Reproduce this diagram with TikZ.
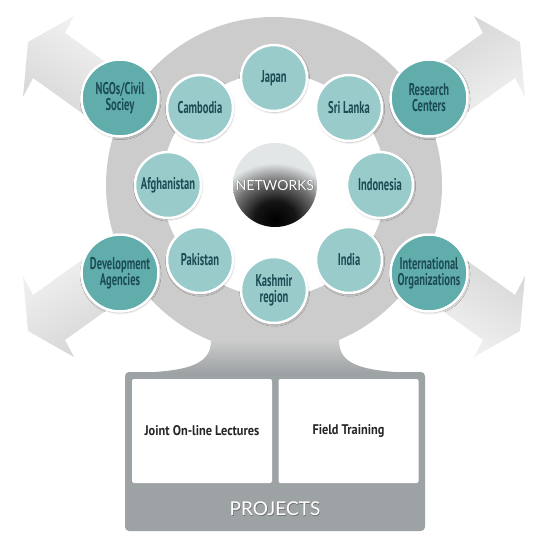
\documentclass[tikz,border=0pt]{standalone}
\usepackage{fontspec}
\usepackage[x11names]{xcolor}
\usepackage{tikz}
\usetikzlibrary{shadows.blur}
\newfontfamily\condfont[FakeStretch=0.62]{PT Sans}
\newfontfamily\widefont[FakeStretch=0.88]{PT Sans}
\newfontfamily\thinfont{Lato}
\definecolor{ringgray}{RGB}{204,204,204}
\definecolor{boxgray}{RGB}{157,162,164}
\definecolor{tealsoft}{RGB}{154,203,203}
\definecolor{tealdeep}{RGB}{96,173,172}
\definecolor{tealink}{RGB}{28,75,83}
\definecolor{arrowlight}{RGB}{250,250,250}
\definecolor{arrowdark}{RGB}{206,206,206}
\definecolor{netlight}{RGB}{226,230,231}
\pgfdeclareradialshading{netball}{\pgfpoint{0bp}{0bp}}{color(0bp)=(black); color(8bp)=(black!92); color(17bp)=(black!55); color(25bp)=(netlight); color(50bp)=(netlight)}

\begin{document}
\begin{tikzpicture}
                            [x=1pt, y=-1pt,
                             country/.style={circle, draw=white, line width=2.5pt, fill=tealsoft, minimum size=66pt, inner sep=0pt,
                                             text=tealink, align=center, font=\condfont\bfseries\fontsize{17}{16}\selectfont,
                                             blur shadow={shadow xshift=0.6pt, shadow yshift=-1.2pt, shadow blur radius=2pt, shadow opacity=35}},
                             partner/.style={country, fill=tealdeep, minimum size=77pt},
                             project/.style={fill=white, rounded corners=2pt, minimum width=140pt, minimum height=104pt,
                                             text=black!85, font=\widefont\bfseries\fontsize{14}{14}\selectfont}]
    \useasboundingbox (0,0) rectangle (548,548);

    % arrows behind the ring
    \shade[left color=arrowlight, right color=arrowdark, shading angle=-30.4]
        (185,119) -- (65,33) -- (74,16) -- (28,42) -- (23,97) -- (33,78) -- (153,164) -- cycle;
    \shade[left color=arrowlight, right color=arrowdark, shading angle=-149.6]
        (363,119) -- (483,33) -- (474,16) -- (520,42) -- (525,97) -- (515,78) -- (395,164) -- cycle;
    \shade[left color=arrowlight, right color=arrowdark, shading angle=30.4]
        (185,254) -- (65,340) -- (74,357) -- (28,331) -- (23,276) -- (33,295) -- (153,209) -- cycle;
    \shade[left color=arrowlight, right color=arrowdark, shading angle=149.6]
        (363,254) -- (483,340) -- (474,357) -- (520,331) -- (525,276) -- (515,295) -- (395,209) -- cycle;

    \fill[ringgray, even odd rule] (274,185) circle (168pt) (274,185) circle (112pt);
    \node[fill=boxgray, rounded corners=4pt, minimum width=300pt, minimum height=159pt] (projects) at (275,451.5) {};
    \shade[top color=ringgray, bottom color=boxgray]
        (211,340) .. controls (211,363) and (193,372) .. (129,373) -- (421,373)
        .. controls (357,372) and (339,363) .. (339,340) -- cycle;

    \node[project] (lectures) at (202,431) {Joint On-line Lectures};
    \node[project] (training) at (348.5,431) {Field Training};
    \node[text=black!55, font=\thinfont\fontsize{19}{19}\selectfont] (projshade) at (275.6,509.6) {PROJECTS};
    \node[text=white, font=\thinfont\fontsize{19}{19}\selectfont] (projlabel) at (275,509) {PROJECTS};

    \node[partner] (ngo) at (120,98) {NGOs/Civil\\Sociey};
    \node[partner] (research) at (429,98) {Research\\Centers};
    \node[partner] (devel) at (120,273) {Development\\Agencies};
    \node[partner] (intl) at (429,273) {International\\Organizations};

    \node[country] (japan) at (274,78) {Japan};
    \node[country] (srilanka) at (349,108) {Sri Lanka};
    \node[country] (indonesia) at (380,185) {Indonesia};
    \node[country] (india) at (349,260) {India};
    \node[country] (kashmir) at (274,290) {Kashmir\\region};
    \node[country] (pakistan) at (200,260) {Pakistan};
    \node[country] (afghan) at (168,185) {Afghanistan};
    \node[country] (cambodia) at (200,108) {Cambodia};

    \node[circle, minimum size=84pt, inner sep=0pt,
          path picture={\fill[netlight] (path picture bounding box.north west) rectangle (path picture bounding box.south east);
                        \shade[shading=netball] (0,34) ellipse (64pt and 56pt);}] (net) at (275,185) {};
    \node[text=black!70, font=\thinfont\fontsize{14}{14}\selectfont] (netshade) at (275.6,185.6) {NETWORKS};
    \node[text=white, font=\thinfont\fontsize{14}{14}\selectfont] (netlabel) at (net) {NETWORKS};
\end{tikzpicture}
\end{document}
